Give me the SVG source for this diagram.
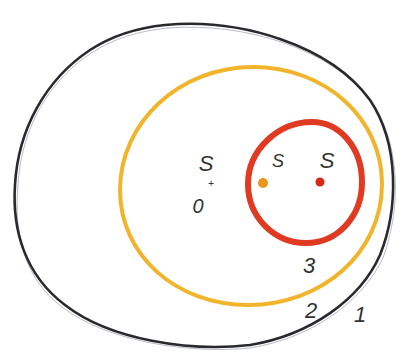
<svg xmlns="http://www.w3.org/2000/svg" width="409" height="360" viewBox="0 0 409 360">
<style>
.lbl{font-family:"Liberation Sans",Arial,sans-serif;font-style:italic;fill:#333;text-anchor:middle}
.ring{fill:none;stroke-linecap:round;stroke-linejoin:round}
</style>
<rect width="409" height="360" fill="#ffffff"/>
<g id="region1">
<path class="ring" stroke="#b8bcc8" stroke-width="1" d="M 168,28 C 243,22 333,48 373,104 C 402,148 400,212 383,258 C 362,302 312,338 250,348 C 190,354 108,342 62,307 C 22,277 14,230 18,185 C 21,130 48,80 93,52 C 113,39 138,31 168,28 Z"/>
<path class="ring" stroke="#2a2a2e" stroke-width="2.6" d="M 165,25 C 240,18 330,45 370,100 C 400,145 398,210 380,255 C 360,300 310,335 250,345 C 190,352 110,340 65,305 C 25,275 12,230 15,185 C 18,130 45,80 90,50 C 110,37 135,28 165,25 Z"/>
<text class="lbl" x="360" y="322" font-size="22">1</text>
</g>
<g id="region2">
<path class="ring" stroke="#f2b42a" stroke-width="4" d="M 253,67 C 325,67 382,118 382,184 C 382,252 323,305 248,305 C 176,305 120,255 120,190 C 120,122 180,67 253,67 Z"/>
<text class="lbl" x="311" y="318" font-size="22">2</text>
</g>
<g id="region3">
<path class="ring" stroke="#e03a22" stroke-width="6" d="M 312,122 C 340,122 362,148 362,182 C 362,216 338,243 306,243 C 274,243 248,217 248,184 C 248,150 278,122 312,122 Z"/>
<text class="lbl" x="309" y="273" font-size="22">3</text>
</g>
<g id="origin">
<text class="lbl" x="206" y="171" font-size="22">S</text>
<text class="lbl" x="211" y="187" font-size="10">+</text>
<text class="lbl" x="198" y="213" font-size="20">0</text>
</g>
<g id="orangePoint">
<circle cx="263" cy="183" r="5" fill="#e8961e"/>
<text class="lbl" x="278" y="167" font-size="18">S</text>
</g>
<g id="redPoint">
<circle cx="320" cy="182" r="4.5" fill="#d8281a"/>
<text class="lbl" x="327" y="168" font-size="22">S</text>
</g>
</svg>
